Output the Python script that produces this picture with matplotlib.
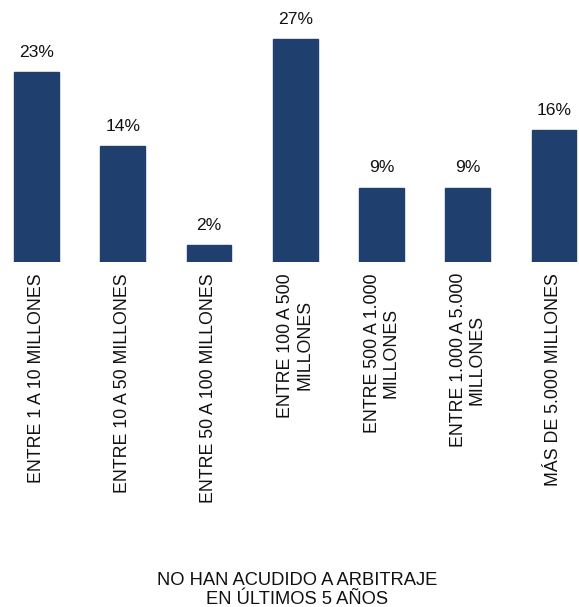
import matplotlib
matplotlib.use("Agg")
import matplotlib.pyplot as plt

categories = ["ENTRE 1 A 10 MILLONES", "ENTRE 10 A 50 MILLONES", "ENTRE 50 A 100 MILLONES",
              "ENTRE 100 A 500\nMILLONES", "ENTRE 500 A 1.000\nMILLONES",
              "ENTRE 1.000 A 5.000\nMILLONES", "MÁS DE 5.000 MILLONES"]
values = [23, 14, 2, 27, 9, 9, 16]
value_labels = ["23%", "14%", "2%", "27%", "9%", "9%", "16%"]
title = "NO HAN ACUDIDO A ARBITRAJE\nEN ÚLTIMOS 5 AÑOS"

FONT = ["Liberation Sans", "DejaVu Sans"]
W, H = 579, 607
fig = plt.figure(figsize=(W / 100, H / 100), dpi=100)
base = 262
ax = fig.add_axes([0, (H - base) / H, 1, base / H])
x = list(range(len(values)))
ax.bar(x, values, width=0.52, color="#1f3f6e", edgecolor="#1f3f6e")
ax.set_xlim(-0.423, 6.29)
ax.set_ylim(0, base / 8.25)
for s in ax.spines.values():
    s.set_visible(False)
ax.set_yticks([])
ax.set_xticks(x)
ax.set_xticklabels(categories, rotation=90, ha="center", va="top", multialignment="center",
                   fontsize=12.8, family=FONT, color="#111111", linespacing=1.15)
ax.tick_params(axis="x", length=0, pad=8)
for xi, v, lab in zip(x, values, value_labels):
    ax.annotate(lab, (xi, v), xytext=(0, 11.0), textcoords="offset points",
                ha="center", va="baseline", fontsize=12.6, family=FONT, color="#111111")
fig.text(297 / W, 1 - 604 / H, title, ha="center", va="baseline", fontsize=13.2,
         family=FONT, color="#111111", linespacing=1.12)
fig.savefig("out.png", dpi=100)
